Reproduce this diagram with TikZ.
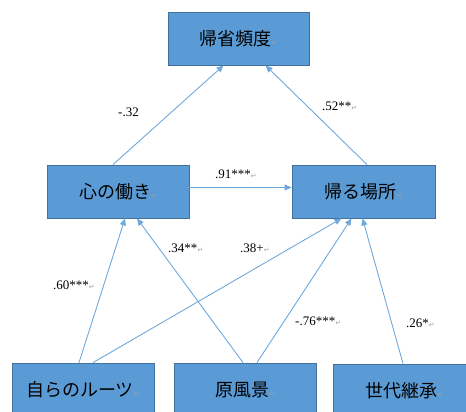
\documentclass[tikz,border=0pt]{standalone}
\usepackage{fontspec}
\setmainfont{Liberation Serif}
\newfontfamily\jpfont{Noto Sans CJK JP}
\newfontfamily\dvfont{DejaVu Sans}
\usetikzlibrary{arrows.meta}
\definecolor{boxblue}{HTML}{5B9BD5}
\definecolor{boxline}{HTML}{41719C}
\definecolor{arrowblue}{HTML}{6FA8DC}
\definecolor{markgray}{HTML}{A0A0A0}
\newcommand{\pmark}{{\dvfont\fontsize{7pt}{7pt}\selectfont\textcolor{markgray}{↵}}}
\tikzset{
  box/.style={draw=boxline, fill=boxblue, line width=0.8pt, minimum width=142pt,
    minimum height=53pt, inner sep=0pt, font=\jpfont\fontsize{18pt}{18pt}\selectfont},
  conn/.style={draw=arrowblue, line width=0.9pt, -{Triangle[width=6pt,length=7pt]}},
  coef/.style={anchor=west, inner sep=0pt, font=\fontsize{13pt}{13pt}\selectfont}
}
\begin{document}
\begin{tikzpicture}[x=1pt,y=-1pt]
\useasboundingbox (0,0) rectangle (466,412);
\clip (0,0) rectangle (466,412);
\node[box, minimum width=141pt] (hinDo) at (238.5,38.5) {帰省頻度\pmark};
\node[box] (kokoro) at (118,191.5) {心の働き\pmark};
\node[box, minimum width=143pt] (kaeru) at (363.5,191.5) {帰る場所\pmark};
\node[box] (roots) at (83,389.5) {自らのルーツ\pmark};
\node[box] (genfu) at (245,389.5) {原風景\pmark};
\node[box] (sedai) at (404,390.5) {世代継承\pmark};

\draw[conn] ([xshift=-5pt]kokoro.north) -- ([xshift=-15pt]hinDo.south);
\draw[conn] ([xshift=3.5pt]kaeru.north) -- ([xshift=27pt]hinDo.south);
\draw[conn] ([yshift=4pt]kokoro.east) -- ([yshift=4pt]kaeru.west);
\draw[conn] ([xshift=-4pt]roots.north) -- ([xshift=7pt]kokoro.south);
\draw[conn] ([xshift=-2pt]genfu.north) -- ([xshift=19pt]kokoro.south);
\draw[conn] ([xshift=10pt]roots.north) -- ([xshift=-22pt]kaeru.south);
\draw[conn] ([xshift=12pt]genfu.north) -- ([xshift=-12pt]kaeru.south);
\draw[conn] ([xshift=-1pt]sedai.north) -- ([xshift=-1pt]kaeru.south);

\node[coef] (l1) at (118,112) {-.32};
\node[coef] (l2) at (322,106) {.52**\pmark};
\node[coef] (l3) at (215,174) {.91***\pmark};
\node[coef] (l4) at (53,285) {.60***\pmark};
\node[coef] (l5) at (168,248) {.34**\pmark};
\node[coef] (l6) at (240,248) {.38+\pmark};
\node[coef] (l7) at (295,321) {-.76***\pmark};
\node[coef] (l8) at (406,323) {.26*\pmark};
\end{tikzpicture}
\end{document}
